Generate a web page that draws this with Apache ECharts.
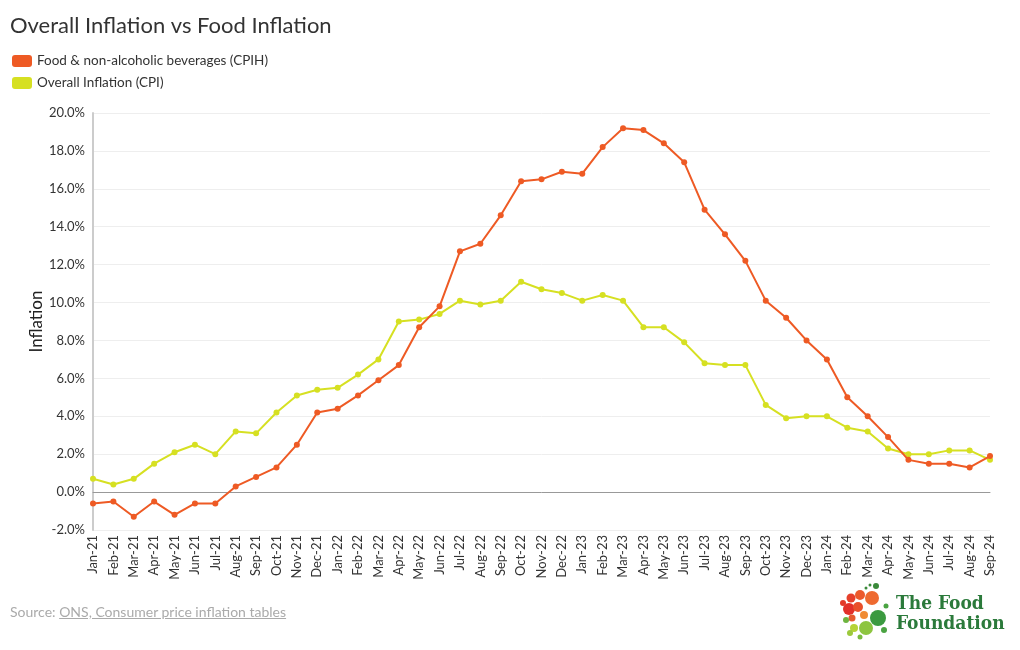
<!DOCTYPE html>
<html>
<head>
<meta charset="utf-8">
<script src="https://cdn.jsdelivr.net/npm/echarts@6/dist/echarts.min.js"></script>
<style>
html,body{margin:0;padding:0;background:#fff;}
#chart{width:1020px;height:650px;position:relative;}
#source{position:absolute;left:10px;top:603px;font-family:Lato,'Open Sans',sans-serif;font-size:14px;color:#aaa;}
#source span{text-decoration:underline;}
</style>
</head>
<body>
<div id="chart"></div>
<div id="source">Source: <span>ONS, Consumer price inflation tables</span></div>
<script>
const months = ['Jan-21','Feb-21','Mar-21','Apr-21','May-21','Jun-21','Jul-21','Aug-21','Sep-21','Oct-21','Nov-21','Dec-21',
  'Jan-22','Feb-22','Mar-22','Apr-22','May-22','Jun-22','Jul-22','Aug-22','Sep-22','Oct-22','Nov-22','Dec-22',
  'Jan-23','Feb-23','Mar-23','Apr-23','May-23','Jun-23','Jul-23','Aug-23','Sep-23','Oct-23','Nov-23','Dec-23',
  'Jan-24','Feb-24','Mar-24','Apr-24','May-24','Jun-24','Jul-24','Aug-24','Sep-24'];
const foodCPIH = [-0.6,-0.5,-1.3,-0.5,-1.2,-0.6,-0.6,0.3,0.8,1.3,2.5,4.2,
  4.4,5.1,5.9,6.7,8.7,9.8,12.7,13.1,14.6,16.4,16.5,16.9,
  16.8,18.2,19.2,19.1,18.4,17.4,14.9,13.6,12.2,10.1,9.2,8.0,
  7.0,5.0,4.0,2.9,1.7,1.5,1.5,1.3,1.9];
const overallCPI = [0.7,0.4,0.7,1.5,2.1,2.5,2.0,3.2,3.1,4.2,5.1,5.4,
  5.5,6.2,7.0,9.0,9.1,9.4,10.1,9.9,10.1,11.1,10.7,10.5,
  10.1,10.4,10.1,8.7,8.7,7.9,6.8,6.7,6.7,4.6,3.9,4.0,
  4.0,3.4,3.2,2.3,2.0,2.0,2.2,2.2,1.7];
const seriesNames = ['Food & non-alcoholic beverages (CPIH)','Overall Inflation (CPI)'];

const chart = echarts.init(document.getElementById('chart'), null, {renderer:'canvas'});
const FONT = 'Lato, "Open Sans", sans-serif';
const dots = [
  [849,609,6,'#e2302a'],[851,598,4.5,'#e6402b'],[843,603,3,'#e33a2a'],[860,595,5,'#ec5a2c'],
  [872,598,7,'#ee6a30'],[858,607,5,'#e9502b'],[864,615,4,'#f08a33'],[852,618,3.5,'#e65a2e'],
  [878,618,8,'#3b9a40'],[866,628,7,'#8dc540'],[854,628,4,'#b5d336'],[846,620,3,'#6db43f'],
  [850,633,3,'#9cc93c'],[860,637,2.5,'#7abb3f'],[886,606,2.5,'#4aa342'],[884,630,3,'#4aa342'],
  [866,588,1.5,'#3a8a3a'],[870,585,1.5,'#3a8a3a'],[876,586,3,'#3a8a3a']
];
const graphics = dots.map(d => ({type:'circle', shape:{cx:d[0], cy:d[1], r:d[2]}, style:{fill:d[3]}, silent:true}));
graphics.push({type:'text', left:896, top:595, style:{text:'The Food', font:'bold 19px "DejaVu Serif Condensed", "DejaVu Serif", serif', fill:'#2b7a3b'}});
graphics.push({type:'text', left:896, top:615, style:{text:'Foundation', font:'bold 19px "DejaVu Serif Condensed", "DejaVu Serif", serif', fill:'#2b7a3b'}});

chart.setOption({
  animation:false,
  backgroundColor:'#fff',
  title:{text:'Overall Inflation vs Food Inflation', left:5, top:10,
    textStyle:{fontFamily:FONT, fontSize:22, fontWeight:'normal', color:'#333'}},
  legend:{orient:'vertical', left:7, top:49, itemWidth:20, itemHeight:12, itemGap:8, icon:'roundRect',
    textStyle:{fontFamily:FONT, fontSize:13.5, color:'#333'}, data:seriesNames},
  grid:{left:93, right:30, top:113, bottom:120},
  xAxis:{type:'category', data:months, boundaryGap:false,
    axisLine:{lineStyle:{color:'#999', width:1}},
    axisTick:{show:false},
    axisLabel:{rotate:90, interval:0, fontFamily:FONT, fontSize:13, color:'#333', margin:5}},
  yAxis:{type:'value', min:-2, max:20, interval:2, name:'Inflation', nameLocation:'middle', nameGap:48,
    nameMoveOverlap:false,
    nameTextStyle:{fontFamily:FONT, fontSize:17, color:'#222'},
    axisLine:{show:true, lineStyle:{color:'#ccc', width:2}},
    axisTick:{show:false},
    splitLine:{lineStyle:{color:'#eee'}},
    axisLabel:{formatter: v => v.toFixed(1)+'%', fontFamily:FONT, fontSize:13, color:'#333'}},
  series:[
    {name:seriesNames[0], type:'line', data:foodCPIH, color:'#ee5a24', symbol:'circle', symbolSize:6,
      lineStyle:{width:2}, z:3},
    {name:seriesNames[1], type:'line', data:overallCPI, color:'#d6e022', symbol:'circle', symbolSize:6,
      lineStyle:{width:2}, z:2}
  ],
  graphic:graphics
});
</script>
</body>
</html>
